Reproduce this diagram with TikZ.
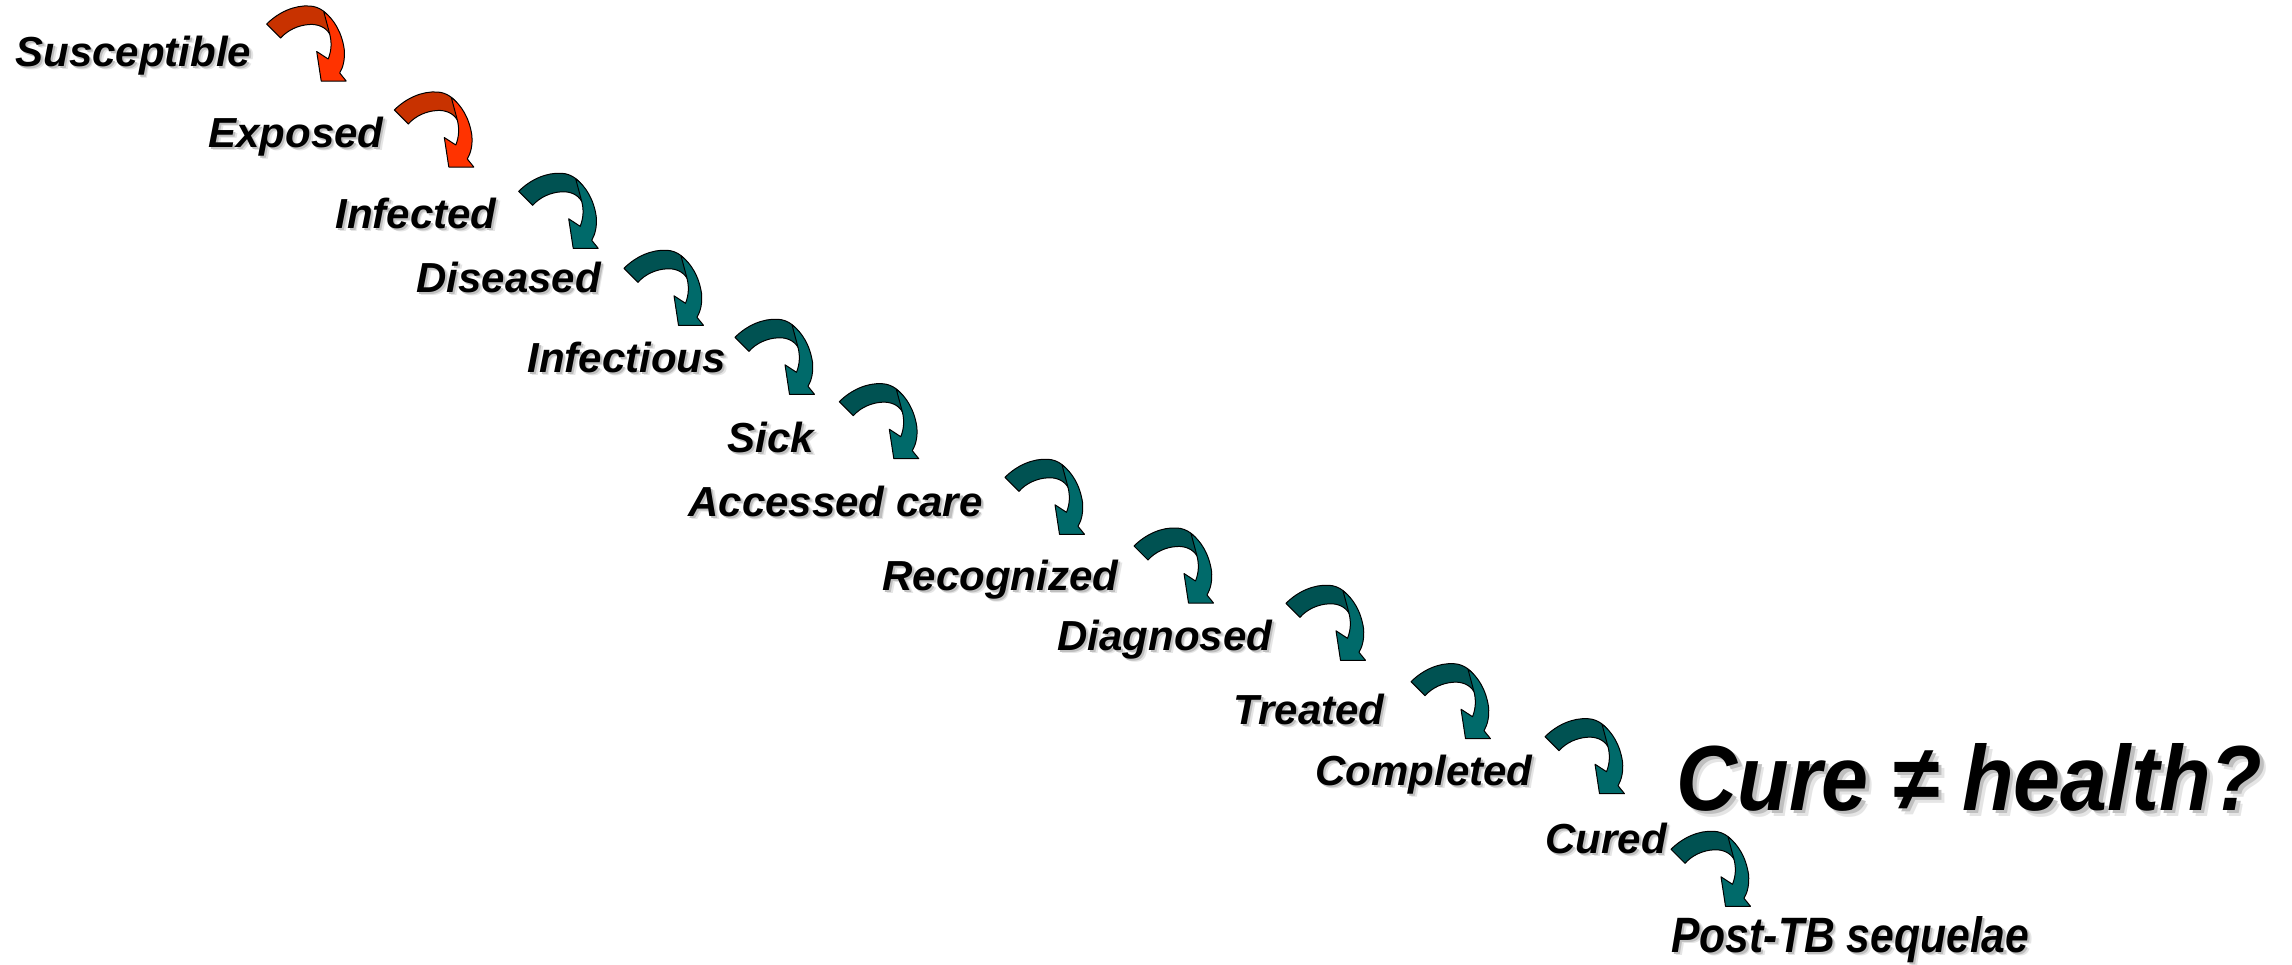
\documentclass[tikz,border=0pt]{standalone}
\usepackage{fontspec}
\setmainfont{Liberation Sans}
\usepackage{graphicx}

\definecolor{tealdark}{RGB}{0,82,82}
\definecolor{teallight}{RGB}{0,106,106}
\definecolor{reddark}{RGB}{200,50,0}
\definecolor{redlight}{RGB}{255,51,0}

\tikzset{
  stagetext/.style={anchor=base west, inner sep=0pt,
    font=\bfseries\itshape\fontsize{21pt}{25pt}\selectfont},
  bigtext/.style={anchor=base west, inner sep=0pt,
    font=\bfseries\itshape\fontsize{21pt}{25pt}\selectfont},
  farshadow/.style={text=black!10},
  nearshadow/.style={text=black!25},
  ribbon/.style={draw=black, line width=0.5pt, line join=round},
  % curved ribbon arrow, tail corner at the pic origin
  pics/bend/.style n args={2}{code={
    \path[ribbon, fill=#1]
      (0,0) .. controls (12,-12) and (28,-19) .. (43,-18)
      .. controls (53,-17.5) and (61,-11) .. (66,-2)
      -- (63,10)
      .. controls (59,3) and (51,0) .. (43,0.5)
      .. controls (32,1) and (21,6) .. (14,14) -- cycle;
    \path[ribbon, fill=#2]
      (57,-12.5) .. controls (67,-5) and (75,8) .. (77.5,25)
      .. controls (78.5,35) and (76.5,43) .. (73,49)
      -- (79.5,57) -- (54.5,57) -- (50,27.5) -- (61.5,35)
      .. controls (65,26) and (65,18) .. (63,10) -- cycle;
  }}
}

% stage label with a soft drop shadow: name, x, y (baseline), text
\newcommand\stagelabel[4]{%
  \node[stagetext, farshadow, xshift=1.9pt, yshift=-1.9pt] (#1-far) at (#2,#3) {#4};
  \node[stagetext, nearshadow, xshift=1.1pt, yshift=-1.1pt] (#1-near) at (#2,#3) {#4};
  \node[stagetext] (#1) at (#2,#3) {#4};
}

\begin{document}
\begin{tikzpicture}[x=0.5pt, y=-0.5pt]
\useasboundingbox (0,0) rectangle (2292,964);

% stages
\stagelabel{susceptible}{15}{66}{Susceptible}
\stagelabel{exposed}{208}{147}{Exposed}
\stagelabel{infected}{335}{228}{Infected}
\stagelabel{diseased}{416}{292}{Diseased}
\stagelabel{infectious}{527}{372}{Infectious}
\stagelabel{sick}{727}{452}{Sick}
\stagelabel{access}{688}{516}{Accessed care}
\stagelabel{recognized}{882}{590}{Recognized}
\stagelabel{diagnosed}{1057}{650}{Diagnosed}
\stagelabel{treated}{1233}{724}{Treated}
\stagelabel{completed}{1315}{785}{Completed}
\stagelabel{cured}{1545}{853}{Cured}

% final stage, set narrower and larger
\node[bigtext, farshadow, xshift=1.9pt, yshift=-1.9pt] (sequelae-far) at (1671,952)
  {\resizebox{179pt}{18pt}{Post-TB sequelae}};
\node[bigtext, nearshadow, xshift=1.1pt, yshift=-1.1pt] (sequelae-near) at (1671,952)
  {\resizebox{179pt}{18pt}{Post-TB sequelae}};
\node[bigtext] (sequelae) at (1671,952)
  {\resizebox{179pt}{18pt}{Post-TB sequelae}};

% headline question
\node[bigtext, farshadow, xshift=3pt, yshift=-3pt] (question-far) at (1676,810)
  {\resizebox{293pt}{33.5pt}{Cure ≠ health?}};
\node[bigtext, nearshadow, xshift=1.8pt, yshift=-1.8pt] (question-near) at (1676,810)
  {\resizebox{293pt}{33.5pt}{Cure ≠ health?}};
\node[bigtext] (question) at (1676,810)
  {\resizebox{293pt}{33.5pt}{Cure ≠ health?}};

% transitions between stages
\pic (t1) at (266.7,24) {bend={reddark}{redlight}};
\pic (t2) at (394.3,110) {bend={reddark}{redlight}};
\pic (t3) at (518.7,191.3) {bend={tealdark}{teallight}};
\pic (t4) at (624,268.3) {bend={tealdark}{teallight}};
\pic (t5) at (735,337.3) {bend={tealdark}{teallight}};
\pic (t6) at (839.3,401.7) {bend={tealdark}{teallight}};
\pic (t7) at (1005,477.3) {bend={tealdark}{teallight}};
\pic (t8) at (1134,546) {bend={tealdark}{teallight}};
\pic (t9) at (1286,603.3) {bend={tealdark}{teallight}};
\pic (t10) at (1411,681.7) {bend={tealdark}{teallight}};
\pic (t11) at (1545,736.7) {bend={tealdark}{teallight}};
\pic (t12) at (1671,849.3) {bend={tealdark}{teallight}};
\end{tikzpicture}
\end{document}
